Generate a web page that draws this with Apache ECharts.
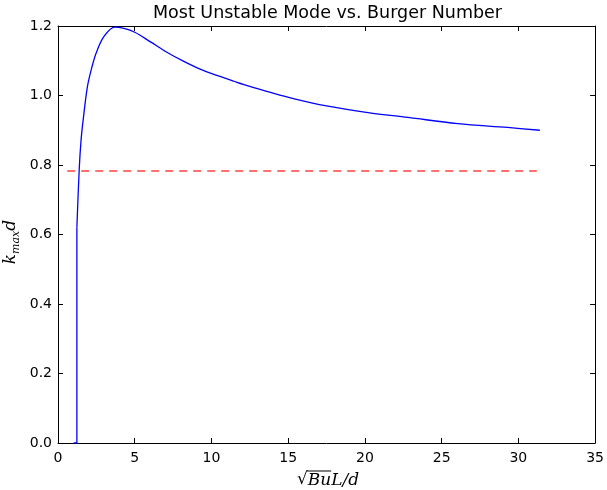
<!DOCTYPE html>
<html>
<head>
<meta charset="utf-8">
<script src="https://cdn.jsdelivr.net/npm/echarts@6/dist/echarts.min.js"></script>
<style>
html,body{margin:0;padding:0;background:#fff}
#main{width:607px;height:490px}
</style>
</head>
<body>
<div id="main"></div>
<script>
// values
const jumpX=[1.02,1.23,1.23]
const jumpY=[0,0,0.62]
const curveX=[1.23,1.38,1.5,1.64,1.92,2.2,2.5,3.0,3.7,4.3,5.0,6.0,7.15,8.2,9.3,10.4,11.46,12.5,13.6,15.34,17.5,20.2,22.8,26.05,29.3,31.4]
const curveY=[0.62,0.785,0.87,0.93,1.026,1.08,1.124,1.17,1.197,1.193,1.182,1.155,1.123,1.098,1.075,1.057,1.041,1.026,1.012,0.991,0.970,0.951,0.937,0.919,0.908,0.900]
const refX=[0.6,31.2]
const refY=[0.783,0.783]
const xTicks=[0,35,5]
const yTicks=[0,1.2,0.2]

const myChart=echarts.init(document.querySelector('#main'))
const tickFont={color:'#000',fontSize:14,fontFamily:'DejaVu Sans'}
const line={show:true,onZero:false,lineStyle:{color:'#000',width:1}}
const tick={show:true,inside:true,length:5,lineStyle:{color:'#000'}}

// measure text so the overline sits over "Bu" only
const mathFont='italic 17px "DejaVu Serif"'
const ctx=document.createElement('canvas').getContext('2d')
ctx.font='17px "DejaVu Serif"'
const wSq=ctx.measureText('√').width
ctx.font=mathFont
const wBu=ctx.measureText('Bu').width
const wRest=ctx.measureText('L/d').width
const xl0=328-(wSq+wBu+wRest)/2

const option={
  animation:false,
  grid:{left:58,right:10,top:26,bottom:47},
  xAxis:[
    {type:'value',min:xTicks[0],max:xTicks[1],interval:xTicks[2],axisLine:line,axisTick:tick,splitLine:{show:false},
     axisLabel:Object.assign({margin:8},tickFont)},
    {type:'value',position:'top',min:xTicks[0],max:xTicks[1],interval:xTicks[2],axisLine:line,axisTick:tick,splitLine:{show:false},axisLabel:{show:false}}
  ],
  yAxis:[
    {type:'value',min:yTicks[0],max:yTicks[1],interval:yTicks[2],axisLine:line,axisTick:tick,splitLine:{show:false},
     axisLabel:Object.assign({margin:6,formatter:v=>v.toFixed(1)},tickFont)},
    {type:'value',position:'right',min:yTicks[0],max:yTicks[1],interval:yTicks[2],axisLine:line,axisTick:tick,splitLine:{show:false},axisLabel:{show:false}}
  ],
  series:[
    {type:'line',data:jumpX.map((x,i)=>[x,jumpY[i]]),showSymbol:false,lineStyle:{color:'#0000ff',width:1.3},z:3},
    {type:'line',data:curveX.map((x,i)=>[x,curveY[i]]),showSymbol:false,smooth:0.35,lineStyle:{color:'#0000ff',width:1.3},z:3},
    {type:'line',data:refX.map((x,i)=>[x,refY[i]]),showSymbol:false,lineStyle:{color:'rgba(255,0,0,0.75)',width:1.5,type:[8,6]},z:2}
  ],
  graphic:[
    {type:'text',x:327.5,y:13,style:{text:'Most Unstable Mode vs. Burger Number',fontSize:17.5,fontFamily:'DejaVu Sans',fill:'#000',align:'center',verticalAlign:'middle'}},
    {type:'text',x:xl0,y:480,style:{text:'√',font:'17px "DejaVu Serif"',fill:'#000',verticalAlign:'middle'}},
    {type:'line',shape:{x1:xl0+wSq-1,y1:471,x2:xl0+wSq+wBu,y2:471},style:{stroke:'#000',lineWidth:1}},
    {type:'text',x:xl0+wSq,y:481,style:{text:'Bu',font:mathFont,fill:'#000',verticalAlign:'middle'}},
    {type:'text',x:xl0+wSq+wBu,y:481,style:{text:'L/d',font:mathFont,fill:'#000',verticalAlign:'middle'}},
    {type:'text',x:12,y:242,rotation:Math.PI/2,
     style:{text:'{i|k}{s|max}{i|d}',fill:'#000',align:'center',verticalAlign:'middle',
       rich:{i:{fontSize:17,fontStyle:'italic',fontFamily:'DejaVu Serif',lineHeight:20,verticalAlign:'top'},
             s:{fontSize:11,fontStyle:'italic',fontFamily:'DejaVu Serif',lineHeight:20,verticalAlign:'bottom',padding:[7,0,0,0]}}}}
  ]
}
myChart.setOption(option)
</script>
</body>
</html>
